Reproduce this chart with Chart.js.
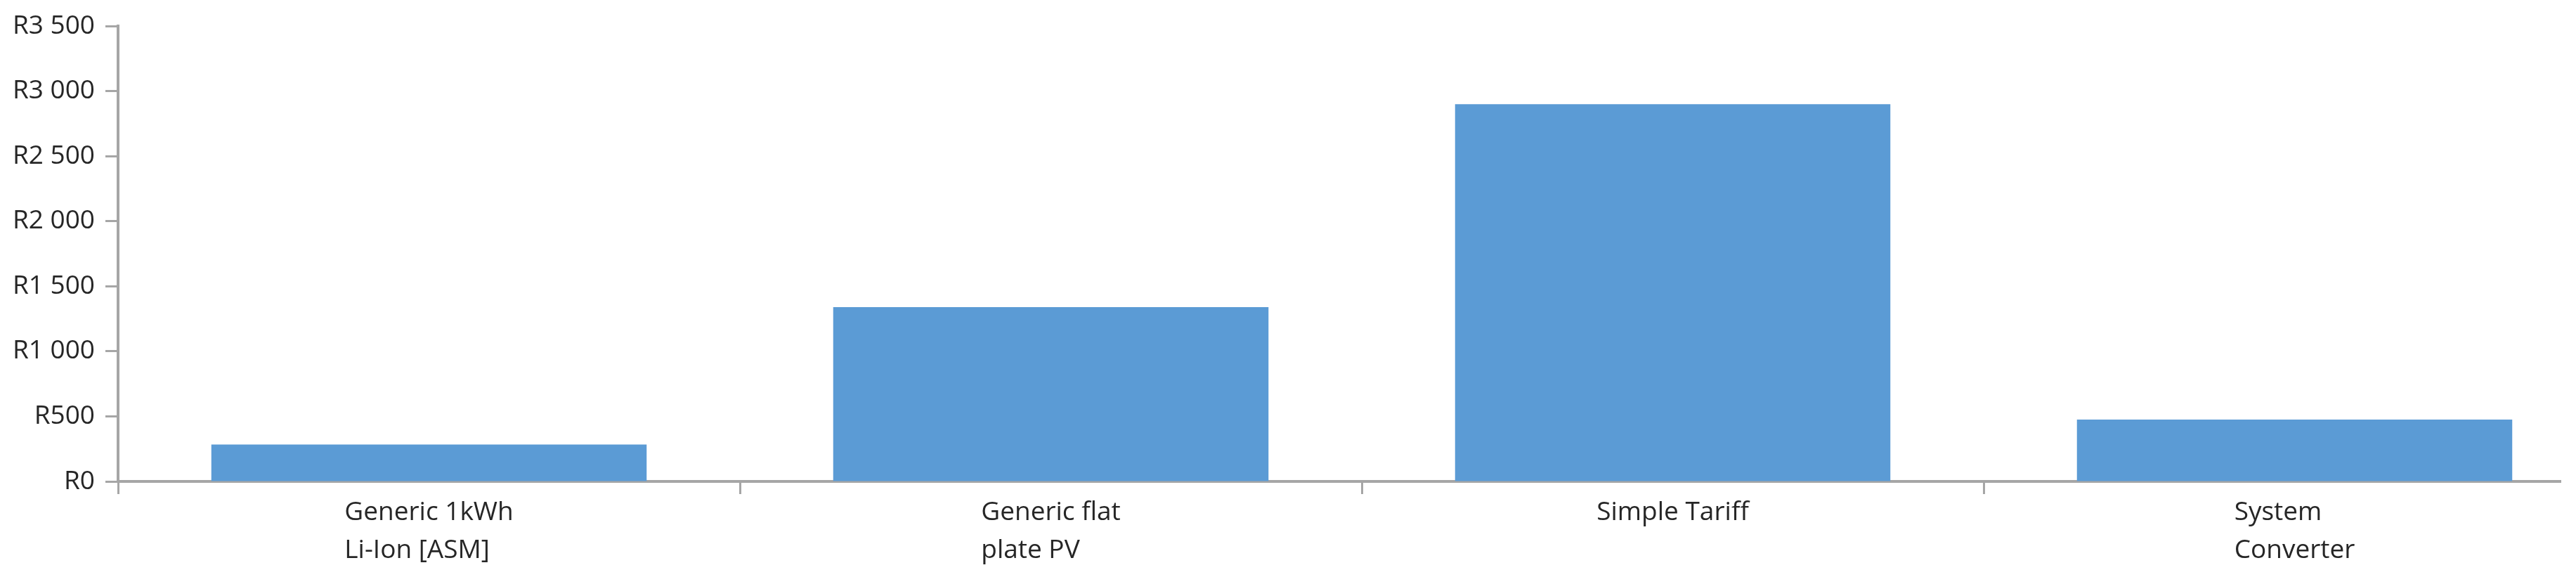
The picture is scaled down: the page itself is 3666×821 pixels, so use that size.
<!DOCTYPE html>
<html>
<head>
<meta charset="utf-8">
<script src="https://cdn.jsdelivr.net/npm/chart.js@4/dist/chart.umd.min.js"></script>
<style>
  html, body { margin: 0; padding: 0; background: #fff; overflow: hidden; }
  .chart-clip { width: 3645px; height: 821px; overflow: hidden; }
  .chart-clip canvas { display: block; }
</style>
</head>
<body>
<div class="chart-clip">
  <canvas id="costChart" width="3708" height="821"></canvas>
</div>
<script>
const categories = [
  ["Generic 1kWh", "Li-Ion [ASM]"],
  ["Generic flat", "plate PV"],
  "Simple Tariff",
  ["System", "Converter"],
];
const costValues = [283, 1340, 2900, 475];
const yMin = 0;
const yMax = 3500;
const yStep = 500;

const axisColor = "#a6a6a6";
const textColor = "#262626";
const barColor = "#5b9bd5";
const fontSize = 37;
const labelLineHeight = fontSize * 1.45;
const tickLen = 18;

const fmtRand = (value) => {
  const s = String(Math.round(value)).replace(/\B(?=(\d{3})+(?!\d))/g, " ");
  return `R${s}`;
};

// category labels: each block centred under its bar, lines left-aligned inside the block
const blockLabels = {
  id: "blockLabels",
  afterDraw(chart) {
    const { ctx } = chart;
    const x = chart.scales.x;
    ctx.save();
    ctx.font = `${fontSize}px "Open Sans"`;
    ctx.fillStyle = textColor;
    ctx.textAlign = "left";
    ctx.textBaseline = "middle";
    x.ticks.forEach((tick, i) => {
      const lines = [].concat(chart.data.labels[i]);
      const w = Math.max(...lines.map((l) => ctx.measureText(l).width));
      const left = x.getPixelForTick(i) - w / 2;
      lines.forEach((line, j) => {
        ctx.fillText(line, left, x.top + tickLen + labelLineHeight / 2 + j * labelLineHeight);
      });
    });
    ctx.restore();
  },
};

const ctx = document.getElementById("costChart");

new Chart(ctx, {
  type: "bar",
  data: {
    labels: categories,
    datasets: [
      {
        data: costValues,
        backgroundColor: barColor,
        borderWidth: 0,
        barPercentage: 0.7,
        categoryPercentage: 1,
      },
    ],
  },
  options: {
    responsive: false,
    animation: false,
    layout: {
      padding: { top: 33, left: 0, right: 0, bottom: 0 },
    },
    plugins: {
      legend: { display: false },
      tooltip: { enabled: false },
    },
    scales: {
      x: {
        border: { display: true, color: axisColor, width: 4 },
        grid: {
          offset: true,
          drawOnChartArea: false,
          drawTicks: true,
          tickLength: tickLen,
          tickColor: axisColor,
          tickWidth: 3,
        },
        ticks: {
          color: "rgba(0,0,0,0)",
          padding: 0,
          maxRotation: 0,
          autoSkip: false,
          font: { family: "Open Sans", size: fontSize, lineHeight: 1.45 },
        },
        afterFit(scale) {
          scale.height = 136;
        },
      },
      y: {
        min: yMin,
        max: yMax,
        border: { display: true, color: axisColor, width: 4 },
        grid: {
          drawOnChartArea: false,
          drawTicks: true,
          tickLength: tickLen,
          tickColor: axisColor,
          tickWidth: 3,
        },
        ticks: {
          stepSize: yStep,
          color: textColor,
          padding: 15,
          font: { family: "Open Sans", size: fontSize },
          callback: (value) => fmtRand(value),
        },
        afterFit(scale) {
          scale.width = 168;
        },
      },
    },
  },
  plugins: [blockLabels],
});
</script>
</body>
</html>
